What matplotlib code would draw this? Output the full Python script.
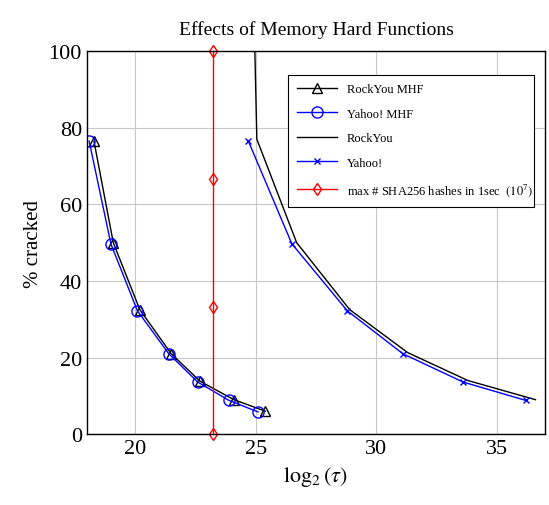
import matplotlib.pyplot as plt

plt.rcParams['font.family'] = ['Liberation Serif', 'DejaVu Serif']
plt.rcParams['mathtext.fontset'] = 'stix'

# data
rockyou_mhf_x = [18.3, 19.1, 20.2, 21.5, 22.7, 24.1, 25.4]
rockyou_mhf_y = [76.5, 50.0, 32.5, 21.0, 13.8, 9.0, 6.0]
yahoo_mhf_x = [18.1, 19.0, 20.1, 21.4, 22.6, 23.9, 25.1]
yahoo_mhf_y = [76.5, 49.7, 32.2, 21.0, 13.6, 8.8, 5.8]
rockyou_x = [24.95, 25.05, 26.7, 28.9, 31.3, 33.8, 36.6]
rockyou_y = [105.0, 77.0, 50.0, 32.5, 21.3, 14.0, 9.0]
yahoo_x = [24.7, 26.5, 28.8, 31.1, 33.6, 36.2]
yahoo_y = [76.5, 49.7, 32.2, 21.0, 13.6, 8.8]
sha_x = [23.25, 23.25, 23.25, 23.25]
sha_y = [0, 33.3, 66.7, 100]

fig = plt.figure(figsize=(5.49, 5.06), dpi=100)
ax = fig.add_axes([0.158, 0.140, 0.835, 0.757])

ax.plot(rockyou_mhf_x, rockyou_mhf_y, color='black', lw=1, marker='^', ms=7, mfc='none', label='RockYou MHF')
ax.plot(yahoo_mhf_x, yahoo_mhf_y, color='blue', lw=1, marker='o', ms=8, mfc='none', label='Yahoo! MHF')
ax.plot(rockyou_x, rockyou_y, color='black', lw=1, label='RockYou')
ax.plot(yahoo_x, yahoo_y, color='blue', lw=1, marker='x', ms=5, label='Yahoo!')
ax.plot(sha_x, sha_y, color='red', lw=1, marker='d', ms=6, mfc='none', clip_on=False,
        label=r'max # SHA256 hashes in 1sec  $(10^7)$')

ax.set_xlim(18, 37)
ax.set_ylim(0, 100)
ax.set_xticks([20, 25, 30, 35])
ax.set_yticks([0, 20, 40, 60, 80, 100])
ax.grid(True, color='#c8c8c8', lw=0.8)
ax.tick_params(labelsize=16, direction='in', length=0)
ax.set_xlabel(r'$\log_2(\tau)$', fontsize=16)
ax.set_ylabel('% cracked', fontsize=15)
ax.set_title('Effects of Memory Hard Functions', fontsize=14, pad=12)
for s in ax.spines.values():
    s.set_linewidth(1)

leg = ax.legend(loc='upper left', bbox_to_anchor=(0.426, 0.955, 0.563, 0.0), mode='expand',
                fontsize=9, fancybox=False, edgecolor='black', framealpha=1,
                borderpad=0.7, labelspacing=1.0, handlelength=3.2)
leg.get_frame().set_linewidth(0.8)

fig.savefig('out.png', dpi=100)
